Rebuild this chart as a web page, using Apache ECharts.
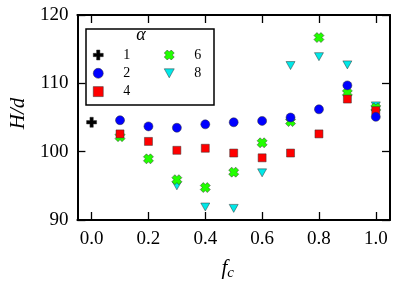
<!DOCTYPE html>
<html><head><meta charset="utf-8">
<script src="https://cdn.jsdelivr.net/npm/echarts@6/dist/echarts.min.js"></script>
<style>html,body{margin:0;padding:0;background:#fff}#c{width:397px;height:286px}</style>
</head><body><div id="c"></div>
<script>
const xTicks = [0, 0.2, 0.4, 0.6, 0.8, 1.0];
const yTicks = [90, 100, 110, 120];
const alphaNames = ['1', '2', '4', '6', '8'];
const fc = [0.1, 0.2, 0.3, 0.4, 0.5, 0.6, 0.7, 0.8, 0.9, 1.0];
const fc8 = [0.3, 0.4, 0.5, 0.6, 0.7, 0.8, 0.9, 1.0];
const a1x = [0.0];
const a1 = [104.3];
const a2 = [104.6, 103.7, 103.5, 104.0, 104.3, 104.5, 105.0, 106.2, 109.7, 105.1];
const a4 = [102.6, 101.5, 100.2, 100.5, 99.8, 99.1, 99.8, 102.6, 107.7, 106.0];
const a6 = [102.2, 98.95, 95.9, 94.75, 97.0, 101.3, 104.4, 116.7, 108.6, 106.4];
const a8 = [95.0, 91.9, 91.7, 96.9, 112.6, 113.9, 112.7, 106.7];

const zip = (xs, ys) => xs.map((x, i) => [x, ys[i]]);
const FONT = 'Liberation Serif';
const plusPath = 'path://M3,0H6V3H9V6H6V9H3V6H0V3H3Z';
const xPath = 'path://M3,0L5,2L7,0L10,3L8,5L10,7L7,10L5,8L3,10L0,7L2,5L0,3Z';
const triPath = 'path://M0,0H10L5,9Z';

const seriesDefs = {
  '8': {data: zip(fc8, a8), symbol: triPath, symbolSize: [9, 8], color: '#00e8e8'},
  '6': {data: zip(fc, a6), symbol: xPath, symbolSize: 10, color: '#22ff00'},
  '4': {data: zip(fc, a4), symbol: 'rect', symbolSize: 8, color: '#ff0000'},
  '2': {data: zip(fc, a2), symbol: 'circle', symbolSize: 9, color: '#0000ff'},
  '1': {data: zip(a1x, a1), symbol: plusPath, symbolSize: 10, color: '#000000'}
};
const series = ['8', '6', '4', '2', '1'].map(k => ({
  name: k, type: 'scatter', data: seriesDefs[k].data,
  symbol: seriesDefs[k].symbol, symbolSize: seriesDefs[k].symbolSize,
  itemStyle: {color: seriesDefs[k].color, opacity: 1, borderColor: '#333', borderWidth: 0.5},
  emphasis: {disabled: true}
}));

const axisLine = {show: true, onZero: false, lineStyle: {color: '#000', width: 2}};
const tick = {show: true, inside: true, length: 8, lineStyle: {color: '#000', width: 1.3}};
const legendCommon = {
  orient: 'vertical', itemWidth: 10, itemHeight: 10, itemGap: 4.3,
  itemStyle: {borderWidth: 0.5, borderColor: '#333', opacity: 1},
  textStyle: {fontFamily: FONT, fontSize: 14, lineHeight: 14, color: '#000', padding: [0, 0, 0, 15]},
  selectedMode: false, padding: 0
};

const chart = echarts.init(document.getElementById('c'), null, {renderer: 'canvas'});
chart.setOption({
  animation: false,
  backgroundColor: '#fff',
  grid: {left: 73, right: 7, top: 15, bottom: 62, show: false},
  xAxis: [{
    type: 'value', min: -0.05, max: 1.05, position: 'bottom',
    axisLine: axisLine,
    axisTick: Object.assign({customValues: xTicks}, tick),
    axisLabel: {customValues: xTicks, formatter: v => v.toFixed(1), fontFamily: FONT, fontSize: 19, color: '#000', margin: 10},
    splitLine: {show: false},
    name: '{a|f}{b|c}', nameLocation: 'middle', nameGap: 36,
    nameTextStyle: {padding: [0, 12, 0, 0], rich: {
      a: {fontFamily: FONT, fontStyle: 'italic', fontSize: 21, color: '#000'},
      b: {fontFamily: FONT, fontStyle: 'italic', fontSize: 15, color: '#000', padding: [10, 0, 0, 0]}
    }}
  }, {
    type: 'value', min: -0.05, max: 1.05, position: 'top',
    axisLine: axisLine,
    axisTick: Object.assign({customValues: xTicks}, tick),
    axisLabel: {show: false}, splitLine: {show: false}
  }],
  yAxis: [{
    type: 'value', min: 90, max: 120, interval: 10, position: 'left',
    axisLine: axisLine,
    axisTick: Object.assign({customValues: yTicks}, tick),
    axisLabel: {fontFamily: FONT, fontSize: 19, color: '#000', margin: 9},
    splitLine: {show: false},
    name: 'H/d', nameLocation: 'middle', nameGap: 47,
    nameTextStyle: {fontFamily: FONT, fontStyle: 'italic', fontSize: 21, color: '#000', padding: [0, 0, 0, 8]}
  }, {
    type: 'value', min: 90, max: 120, interval: 10, position: 'right',
    axisLine: axisLine,
    axisTick: Object.assign({customValues: yTicks}, tick),
    axisLabel: {show: false}, splitLine: {show: false}
  }],
  legend: [
    Object.assign({data: alphaNames.slice(0, 3), left: 93, top: 48}, legendCommon),
    Object.assign({data: alphaNames.slice(3), left: 164, top: 48}, legendCommon)
  ],
  graphic: [
    {type: 'rect', shape: {x: 86, y: 29, width: 128, height: 76}, style: {fill: 'none', stroke: '#000', lineWidth: 1.5}, z: 100},
    {type: 'text', x: 141, y: 35, style: {text: 'α', fontFamily: FONT, fontStyle: 'italic', fontSize: 18, fill: '#000', align: 'center', verticalAlign: 'middle'}, z: 100}
  ],
  series: series
});
</script></body></html>
